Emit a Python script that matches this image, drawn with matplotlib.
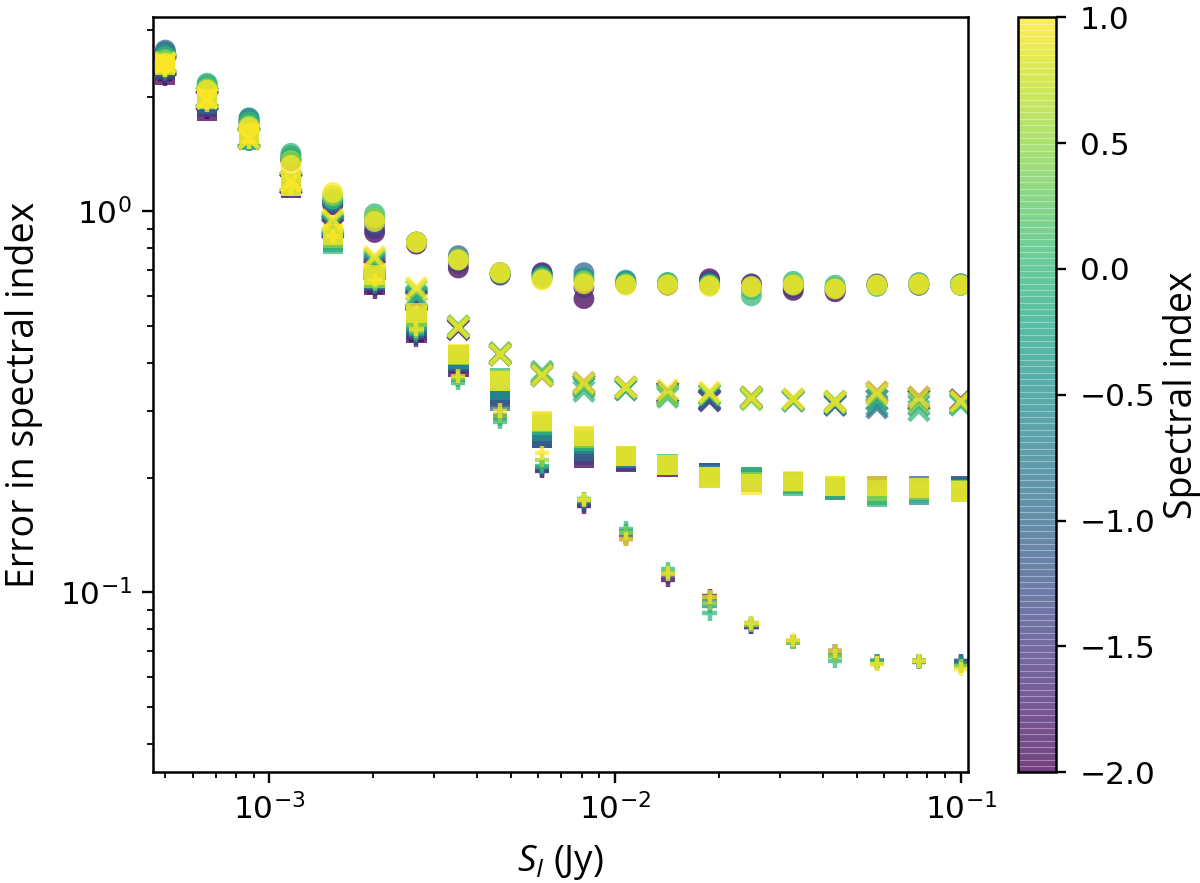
import matplotlib
matplotlib.use('Agg')
import matplotlib.pyplot as plt
import numpy as np

# italic S in the axis label comes from the label font, tick numbers stay DejaVu
plt.rcParams['mathtext.fontset'] = 'custom'
plt.rcParams['mathtext.rm'] = 'DejaVu Sans'
plt.rcParams['mathtext.sf'] = 'DejaVu Sans'
plt.rcParams['mathtext.bf'] = 'DejaVu Sans:bold'
plt.rcParams['mathtext.it'] = 'Open Sans:italic'


# flux density grid (Jy) and the spectral indices of the simulated sources
flux = np.logspace(np.log10(5e-4), -1, 20)
spec_index = [-2.0, -1.5, -1.0, -0.5, 0.0, 0.5, 1.0]

# error in spectral index, one row per spectral index
err_circle = [
    [2.55, 2.05, 1.70, 1.36, 1.04, 0.88, 0.82, 0.71, 0.68, 0.69, 0.59, 0.645, 0.64, 0.665, 0.645, 0.62, 0.615, 0.64, 0.64, 0.64],
    [2.62, 2.08, 1.72, 1.37, 1.05, 0.90, 0.83, 0.73, 0.685, 0.685, 0.63, 0.65, 0.645, 0.655, 0.64, 0.63, 0.62, 0.645, 0.64, 0.645],
    [2.65, 2.10, 1.75, 1.38, 1.06, 0.93, 0.83, 0.765, 0.69, 0.68, 0.69, 0.655, 0.645, 0.65, 0.64, 0.64, 0.63, 0.64, 0.645, 0.64],
    [2.60, 2.15, 1.76, 1.40, 1.07, 0.96, 0.83, 0.75, 0.69, 0.675, 0.67, 0.66, 0.65, 0.645, 0.625, 0.645, 0.63, 0.64, 0.65, 0.64],
    [2.55, 2.17, 1.72, 1.42, 1.08, 0.985, 0.83, 0.745, 0.685, 0.67, 0.66, 0.65, 0.65, 0.64, 0.60, 0.655, 0.64, 0.635, 0.645, 0.645],
    [2.50, 2.10, 1.68, 1.36, 1.10, 0.96, 0.83, 0.75, 0.69, 0.665, 0.655, 0.645, 0.645, 0.64, 0.63, 0.645, 0.63, 0.64, 0.64, 0.64],
    [2.45, 2.08, 1.66, 1.32, 1.12, 0.94, 0.83, 0.745, 0.69, 0.66, 0.645, 0.64, 0.64, 0.635, 0.635, 0.64, 0.625, 0.64, 0.645, 0.64],
]
err_cross = [
    [2.40, 1.95, 1.55, 1.18, 0.90, 0.70, 0.58, 0.49, 0.42, 0.37, 0.35, 0.345, 0.335, 0.32, 0.325, 0.32, 0.315, 0.335, 0.325, 0.32],
    [2.42, 1.96, 1.56, 1.18, 0.91, 0.71, 0.585, 0.49, 0.42, 0.375, 0.355, 0.345, 0.33, 0.318, 0.325, 0.318, 0.31, 0.32, 0.32, 0.318],
    [2.44, 1.98, 1.57, 1.19, 0.92, 0.72, 0.59, 0.495, 0.425, 0.375, 0.35, 0.34, 0.335, 0.322, 0.322, 0.32, 0.31, 0.305, 0.32, 0.315],
    [2.45, 2.00, 1.57, 1.20, 0.92, 0.73, 0.595, 0.495, 0.42, 0.37, 0.345, 0.345, 0.33, 0.33, 0.325, 0.32, 0.312, 0.31, 0.31, 0.312],
    [2.46, 2.00, 1.56, 1.20, 0.93, 0.74, 0.60, 0.50, 0.42, 0.38, 0.337, 0.34, 0.325, 0.33, 0.322, 0.318, 0.315, 0.32, 0.30, 0.31],
    [2.46, 2.00, 1.56, 1.20, 0.94, 0.75, 0.62, 0.50, 0.425, 0.375, 0.35, 0.345, 0.33, 0.332, 0.32, 0.32, 0.318, 0.33, 0.315, 0.315],
    [2.45, 1.98, 1.55, 1.20, 0.95, 0.76, 0.63, 0.495, 0.42, 0.37, 0.355, 0.345, 0.34, 0.335, 0.325, 0.322, 0.315, 0.335, 0.325, 0.318],
]
err_square = [
    [2.28, 1.84, 1.55, 1.15, 0.85, 0.64, 0.48, 0.39, 0.33, 0.255, 0.225, 0.22, 0.213, 0.205, 0.195, 0.195, 0.186, 0.19, 0.185, 0.188],
    [2.35, 1.88, 1.56, 1.16, 0.85, 0.65, 0.49, 0.40, 0.325, 0.255, 0.23, 0.222, 0.215, 0.205, 0.197, 0.195, 0.188, 0.19, 0.186, 0.19],
    [2.40, 1.92, 1.55, 1.17, 0.84, 0.66, 0.50, 0.405, 0.318, 0.254, 0.235, 0.225, 0.215, 0.205, 0.20, 0.194, 0.188, 0.188, 0.19, 0.19],
    [2.42, 1.96, 1.54, 1.18, 0.83, 0.665, 0.51, 0.41, 0.34, 0.265, 0.245, 0.226, 0.216, 0.203, 0.20, 0.193, 0.187, 0.18, 0.18, 0.186],
    [2.45, 1.98, 1.55, 1.17, 0.82, 0.67, 0.52, 0.42, 0.365, 0.275, 0.25, 0.228, 0.217, 0.20, 0.20, 0.19, 0.186, 0.178, 0.182, 0.184],
    [2.45, 1.98, 1.58, 1.17, 0.85, 0.67, 0.53, 0.42, 0.36, 0.28, 0.255, 0.228, 0.216, 0.20, 0.195, 0.195, 0.19, 0.185, 0.186, 0.185],
    [2.42, 1.97, 1.60, 1.17, 0.87, 0.68, 0.54, 0.422, 0.358, 0.282, 0.257, 0.228, 0.216, 0.20, 0.192, 0.196, 0.19, 0.19, 0.188, 0.184],
]
err_plus = [
    [2.22, 1.82, 1.50, 1.15, 0.86, 0.615, 0.46, 0.375, 0.29, 0.208, 0.168, 0.138, 0.108, 0.098, 0.081, 0.074, 0.070, 0.066, 0.066, 0.065],
    [2.25, 1.85, 1.50, 1.15, 0.85, 0.625, 0.465, 0.37, 0.29, 0.21, 0.17, 0.14, 0.11, 0.097, 0.081, 0.074, 0.070, 0.066, 0.066, 0.066],
    [2.30, 1.88, 1.52, 1.14, 0.85, 0.635, 0.47, 0.365, 0.29, 0.212, 0.172, 0.142, 0.112, 0.095, 0.082, 0.074, 0.069, 0.0655, 0.066, 0.066],
    [2.32, 1.90, 1.50, 1.15, 0.84, 0.64, 0.475, 0.36, 0.285, 0.213, 0.174, 0.145, 0.113, 0.092, 0.082, 0.074, 0.068, 0.066, 0.0655, 0.065],
    [2.35, 1.92, 1.50, 1.15, 0.84, 0.645, 0.48, 0.355, 0.28, 0.215, 0.176, 0.147, 0.115, 0.088, 0.083, 0.074, 0.066, 0.066, 0.066, 0.064],
    [2.35, 1.92, 1.52, 1.15, 0.85, 0.65, 0.485, 0.365, 0.29, 0.222, 0.176, 0.143, 0.113, 0.094, 0.082, 0.074, 0.068, 0.065, 0.066, 0.064],
    [2.35, 1.90, 1.52, 1.16, 0.86, 0.66, 0.49, 0.37, 0.30, 0.232, 0.175, 0.138, 0.112, 0.097, 0.083, 0.075, 0.070, 0.065, 0.066, 0.063],
]

label_font = 'Open Sans'

fig = plt.figure(figsize=(12, 8.83), dpi=100)
ax = fig.add_axes([0.1273, 0.1254, 0.6794, 0.8550])
cax = fig.add_axes([0.8481, 0.1254, 0.0319, 0.8550])

alpha = 0.75
for i, si in enumerate(spec_index):
    c = np.full(len(flux), si)
    sc = ax.scatter(flux, err_circle[i], c=c, marker='o', s=225, cmap='viridis',
                    vmin=-2, vmax=1, alpha=alpha, linewidths=0)
    ax.scatter(flux, err_cross[i], c=c, marker='x', s=210, cmap='viridis',
               vmin=-2, vmax=1, alpha=alpha, linewidths=3.4)
    ax.scatter(flux, err_square[i], c=c, marker='s', s=215, cmap='viridis',
               vmin=-2, vmax=1, alpha=alpha, linewidths=0)
    ax.scatter(flux, err_plus[i], c=c, marker='+', s=105, cmap='viridis',
               vmin=-2, vmax=1, alpha=alpha, linewidths=3.2)

ax.set_xscale('log')
ax.set_yscale('log')
ax.set_xlim(4.6e-4, 0.105)
ax.set_ylim(0.0337, 3.23)

for a in (ax, cax):
    for sp in a.spines.values():
        sp.set_linewidth(1.8)
ax.tick_params(which='major', length=8, width=1.7, labelsize=22.5, pad=7)
ax.tick_params(which='minor', length=4.3, width=1.3)

ax.set_xlabel(r'$S_I$ (Jy)', fontsize=26.5, fontfamily=label_font)
ax.set_ylabel('Error in spectral index', fontsize=27, fontfamily=label_font)
ax.xaxis.set_label_coords(0.5, -0.094)
ax.yaxis.set_label_coords(-0.135, 0.5)

cbar = fig.colorbar(sc, cax=cax)
cbar.set_ticks([-2.0, -1.5, -1.0, -0.5, 0.0, 0.5, 1.0])
cbar.ax.tick_params(length=7.2, width=1.7, labelsize=22.5, pad=10)
cbar.outline.set_linewidth(1.8)
# faint banding seen in the colorbar fill
cax.hlines(np.linspace(-2, 1, 120), 0, 1, colors='white', linewidth=0.8, alpha=0.35)
cbar.set_label('Spectral index', fontsize=27, fontfamily=label_font)
cax.yaxis.set_label_coords(3.8, 0.5)

fig.savefig('out.png', dpi=100)
